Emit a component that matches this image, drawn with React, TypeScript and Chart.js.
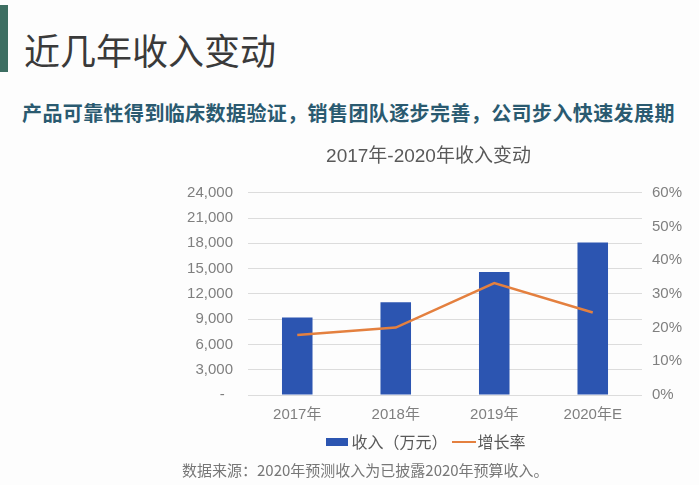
import React, { useEffect, useRef } from "react";
import { Chart, registerables } from "chart.js";

Chart.register(...registerables);

const categories = ["2017年", "2018年", "2019年", "2020年E"];
const revenue = [9200, 11000, 14600, 18100];
const growth = [17.8, 20.0, 33.2, 24.5];
const seriesNames = ["收入（万元）", "增长率"];
const chartTitle = "2017年-2020年收入变动";
const pageTitle = "近几年收入变动";
const subtitle = "产品可靠性得到临床数据验证，销售团队逐步完善，公司步入快速发展期";
const sourceNote = "数据来源：2020年预测收入为已披露2020年预算收入。";

const BAR_COLOR = "#2C55B1";
const LINE_COLOR = "#E4803F";
const FONT = "'Liberation Sans', 'Noto Sans CJK SC', sans-serif";
const CJK = "'Noto Sans CJK SC', sans-serif";

function makeSwatch(w: number, h: number, color: string) {
  const c = document.createElement("canvas");
  c.width = w;
  c.height = h;
  const ctx = c.getContext("2d")!;
  ctx.fillStyle = color;
  ctx.fillRect(0, 0, w, h);
  return c;
}

export default function App() {
  const ref = useRef<HTMLCanvasElement | null>(null);

  useEffect(() => {
    document.body.style.margin = "0";
    const barSwatch = makeSwatch(22, 8, BAR_COLOR);
    const lineSwatch = makeSwatch(24, 2, LINE_COLOR);
    const chart = new Chart(ref.current!, {
      data: {
        labels: categories,
        datasets: [
          {
            type: "bar",
            label: seriesNames[0],
            data: revenue,
            backgroundColor: BAR_COLOR,
            yAxisID: "y",
            categoryPercentage: 1,
            barPercentage: 0.31,
            order: 2,
            pointStyle: barSwatch as any,
          },
          {
            type: "line",
            label: seriesNames[1],
            data: growth,
            borderColor: LINE_COLOR,
            backgroundColor: LINE_COLOR,
            borderWidth: 2.5,
            pointRadius: 0,
            tension: 0,
            yAxisID: "y1",
            order: 1,
            pointStyle: lineSwatch as any,
          },
        ],
      },
      options: {
        responsive: false,
        animation: false,
        devicePixelRatio: 1,
        layout: { padding: { left: 170, right: 12, top: 0, bottom: 0 } },
        plugins: {
          title: {
            display: true,
            text: chartTitle,
            color: "#595959",
            font: { family: FONT, size: 19, weight: "normal" },
            padding: { top: 5, bottom: 25 },
          },
          legend: {
            position: "bottom",
            labels: {
              usePointStyle: true,
              pointStyleWidth: 12,
              color: "#595959",
              font: { family: CJK, size: 16 },
              padding: 10,
              sort: (a: any, b: any) => a.datasetIndex - b.datasetIndex,
            },
          },
          tooltip: { enabled: false },
        },
        scales: {
          x: {
            afterFit: (s: any) => {
              s.height = 29;
            },
            grid: { display: false, drawTicks: false },
            border: { display: false },
            ticks: {
              color: "#7f7f7f",
              font: { family: FONT, size: 15 },
              padding: 11,
            },
          },
          y: {
            position: "left",
            min: 0,
            max: 24000,
            afterFit: (s: any) => {
              s.width = 78;
            },
            grid: { color: "#dcdcdc", lineWidth: 1, drawTicks: false },
            border: { display: false },
            ticks: {
              stepSize: 3000,
              color: "#7f7f7f",
              font: { family: FONT, size: 15 },
              padding: 15,
              callback: (v: any) => (v === 0 ? "-  " : Number(v).toLocaleString("en-US")),
            },
          },
          y1: {
            position: "right",
            min: 0,
            max: 60,
            afterFit: (s: any) => {
              s.width = 45;
            },
            grid: { display: false, drawTicks: false },
            border: { display: false },
            ticks: {
              stepSize: 10,
              color: "#7f7f7f",
              font: { family: FONT, size: 15 },
              padding: 10,
              callback: (v: any) => v + "%",
            },
          },
        },
      },
    } as any);
    return () => chart.destroy();
  }, []);

  return (
    <div style={{ position: "fixed", left: 0, top: 0, width: 699, height: 485, background: "#fdfdfd", overflow: "hidden" }}>
      <div style={{ position: "absolute", left: 0, top: 5, width: 8, height: 67, background: "#3d6e62" }} />
      <div
        style={{
          position: "absolute",
          left: 24,
          top: 31,
          fontFamily: CJK,
          fontSize: 36,
          lineHeight: "36px",
          color: "#3a3a3a",
          whiteSpace: "nowrap",
        }}
      >
        {pageTitle}
      </div>
      <div
        style={{
          position: "absolute",
          left: 22,
          top: 103,
          fontFamily: CJK,
          fontSize: 20,
          lineHeight: "20px",
          fontWeight: 700,
          letterSpacing: "0.4px",
          color: "#2a5a70",
          whiteSpace: "nowrap",
        }}
      >
        {subtitle}
      </div>
      <canvas ref={ref} width={699} height={320} style={{ position: "absolute", left: 0, top: 140, width: 699, height: 320 }} />
      <div
        style={{
          position: "absolute",
          left: 182,
          top: 462,
          fontFamily: CJK,
          fontSize: 15,
          lineHeight: "16px",
          color: "#777",
          whiteSpace: "nowrap",
        }}
      >
        {sourceNote}
      </div>
    </div>
  );
}
